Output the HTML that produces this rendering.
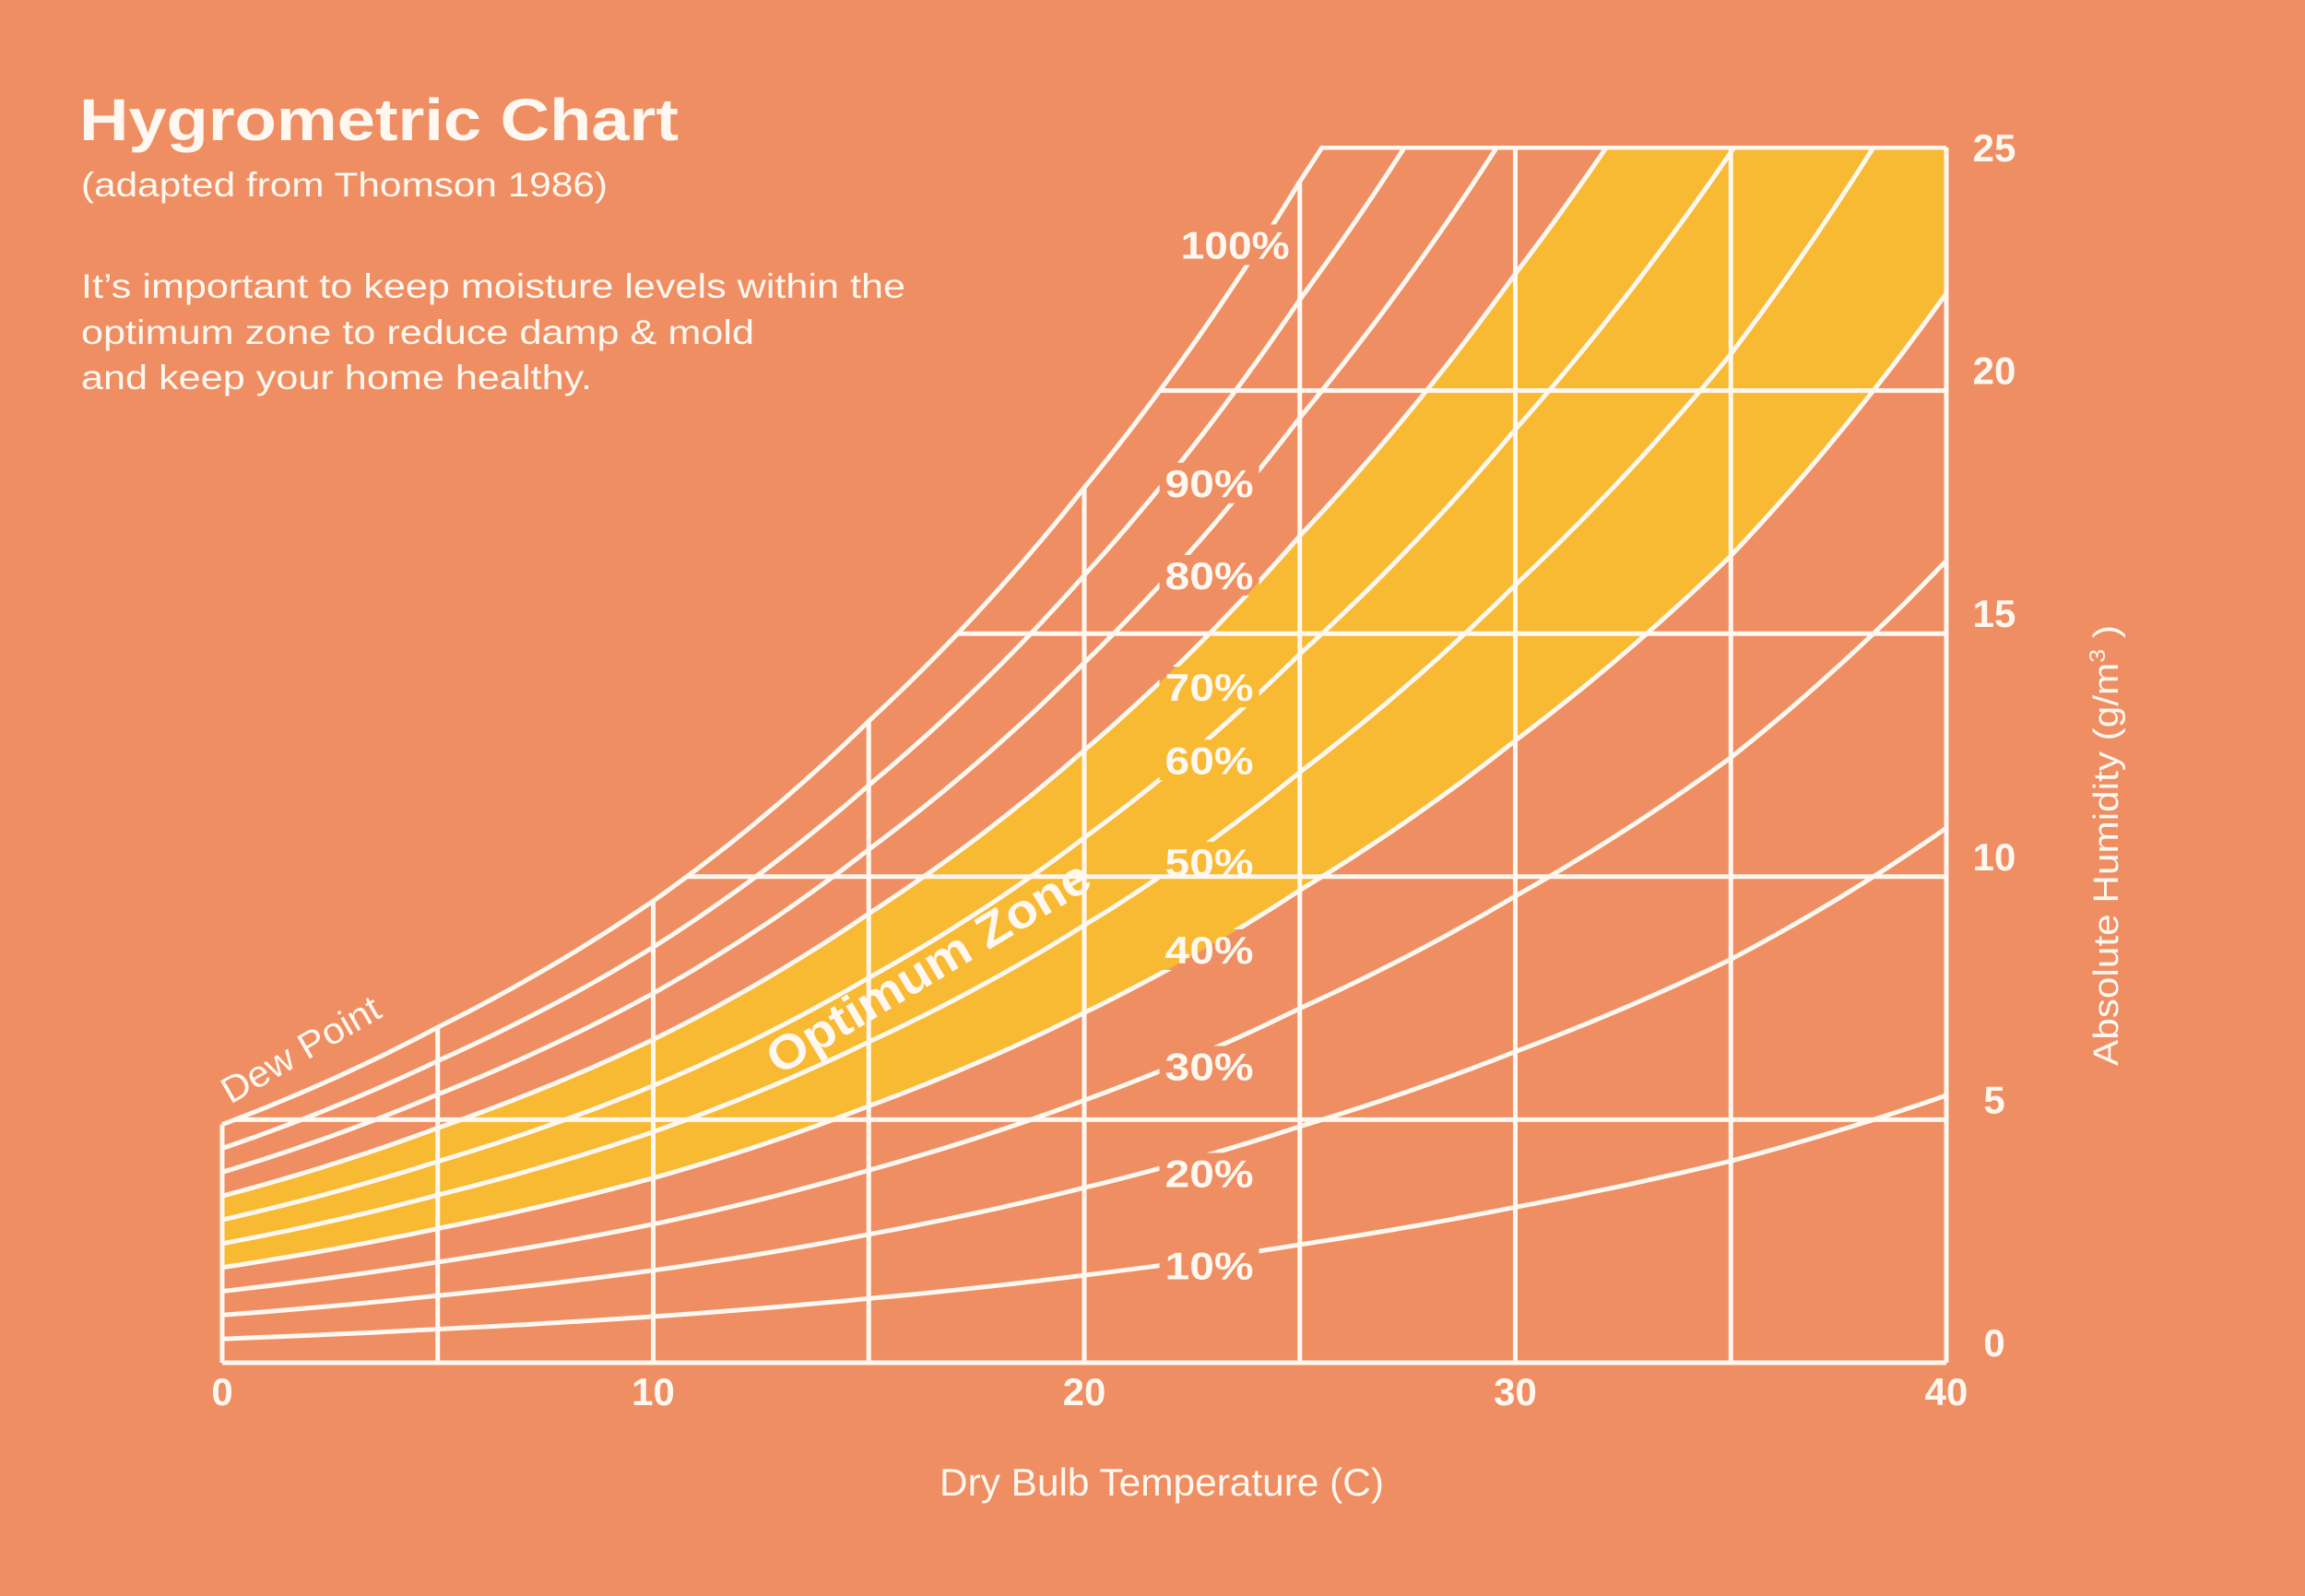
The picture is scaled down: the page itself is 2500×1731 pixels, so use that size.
<!DOCTYPE html>
<html><head><meta charset="utf-8"><style>
html,body{margin:0;padding:0;background:#EF8E63;}
svg{display:block;}
text{font-family:"Liberation Sans",sans-serif;fill:#FFF8F0;}
</style></head><body>
<svg id="chart" width="2500" height="1731" viewBox="0 0 2500 1731" xmlns="http://www.w3.org/2000/svg">
<rect x="0" y="0" width="2500" height="1731" fill="#EF8E63"/>
<text x="86" y="152" font-size="64" font-weight="bold" textLength="650" lengthAdjust="spacingAndGlyphs">Hygrometric Chart</text>
<text x="88" y="213" font-size="37" textLength="571" lengthAdjust="spacingAndGlyphs">(adapted from Thomson 1986)</text>
<g>
<text x="88" y="323" font-size="37" textLength="894" lengthAdjust="spacingAndGlyphs">It’s important to keep moisture levels within the</text>
<text x="88" y="373" font-size="37" textLength="730" lengthAdjust="spacingAndGlyphs">optimum zone to reduce damp &amp; mold</text>
<text x="88" y="422" font-size="37" textLength="554" lengthAdjust="spacingAndGlyphs">and keep your home healthy.</text>
</g>
<defs>
<clipPath id="plotclip"><rect x="236" y="158" width="1880" height="1325"/></clipPath>
<mask id="labelmask" maskUnits="userSpaceOnUse" x="0" y="0" width="2500" height="1731"><rect x="0" y="0" width="2500" height="1731" fill="#fff"/><g id="maskholes"></g></mask>
</defs>
<g id="zone" clip-path="url(#plotclip)"></g>
<g id="grid" clip-path="url(#plotclip)"></g>
<g clip-path="url(#plotclip)"><g id="curves" mask="url(#labelmask)"></g></g>
<g id="labels"></g>
<text x="1260" y="1622" font-size="42" text-anchor="middle" textLength="482" lengthAdjust="spacingAndGlyphs">Dry Bulb Temperature (C)</text>
<text transform="translate(2297,917) rotate(-90)" font-size="38" text-anchor="middle" textLength="478" lengthAdjust="spacingAndGlyphs">Absolute Humidity (g/m<tspan font-size="24" dy="-14">3</tspan><tspan dy="14"> )</tspan></text>
<text transform="translate(333,1150) rotate(-30)" font-size="40" text-anchor="middle" textLength="192" lengthAdjust="spacingAndGlyphs">Dew Point</text>
<text transform="translate(1016,1064) rotate(-31)" font-size="52" font-weight="bold" text-anchor="middle" textLength="400" lengthAdjust="spacingAndGlyphs">Optimum Zone</text>
</svg>
<script>
// Data
const satTemps = [0, 5, 10, 15, 20, 25, 30, 35, 40];
const satValues = [4.9, 6.9, 9.5, 13.2, 18.0, 24.3, 32.0, 41.5, 55.0];
const rhLevels = [100, 90, 80, 70, 60, 50, 40, 30, 20, 10];
const rhLabels = ['100%', '90%', '80%', '70%', '60%', '50%', '40%', '30%', '20%', '10%'];
const zoneLow = 40;
const zoneHigh = 70;
const xTicks = [0, 10, 20, 30, 40];
const xGrid = [0, 5, 10, 15, 20, 25, 30, 35, 40];
const yTicks = [0, 5, 10, 15, 20, 25];
const labelTemps = [23.5, 22.9, 22.9, 22.9, 22.9, 22.9, 22.9, 22.9, 22.9, 22.9];
const labelAH = [23.0, 18.1, 16.2, 13.9, 12.4, 10.3, 8.5, 6.1, 3.9, 2.0];

const X0 = 241, X1 = 2111, Y0 = 1478, Y1 = 160;
function xs(t) { return X0 + (t - 0) / 40 * (X1 - X0); }
function ys(v) { return Y0 - v / 25 * (Y0 - Y1); }
function sat(t) {
  let i = Math.min(satTemps.length - 2, Math.max(0, Math.floor(t / 5)));
  const f = (t - satTemps[i]) / (satTemps[i + 1] - satTemps[i]);
  return Math.exp(Math.log(satValues[i]) * (1 - f) + Math.log(satValues[i + 1]) * f);
}
function tAtSat(v) {
  let lo = 0, hi = 40;
  if (sat(0) >= v) return 0;
  for (let k = 0; k < 40; k++) { const m = (lo + hi) / 2; if (sat(m) < v) lo = m; else hi = m; }
  return lo;
}
const NS = 'http://www.w3.org/2000/svg';
function mk(tag, attrs, parent) {
  const e = document.createElementNS(NS, tag);
  for (const k in attrs) e.setAttribute(k, attrs[k]);
  parent.appendChild(e);
  return e;
}
function curvePts(rh) {
  const pts = [];
  for (let t = 0; t <= 40.001; t += 0.25) pts.push([xs(t), ys(sat(t) * rh / 100)]);
  return pts;
}
const WHITE = '#FFF8F0';
// zone
const zoneG = document.getElementById('zone');
const hiPts = curvePts(zoneHigh), loPts = curvePts(zoneLow).reverse();
const zp = mk('path', { d: 'M' + hiPts.concat(loPts).map(p => p[0].toFixed(1) + ',' + p[1].toFixed(1)).join('L') + 'Z', fill: '#F8B933' }, zoneG);


// grid
const gridG = document.getElementById('grid');
xGrid.forEach(t => {
  const top = Math.min(25, sat(t));
  const l = mk('line', { x1: xs(t), x2: xs(t), y1: ys(0), y2: ys(top), stroke: WHITE, 'stroke-width': 5 }, gridG);
  
  
});
yTicks.forEach(v => {
  const t0 = v === 0 ? 0 : tAtSat(v);
  const l = mk('line', { x1: xs(t0), x2: xs(40), y1: ys(v), y2: ys(v), stroke: WHITE, 'stroke-width': 5 }, gridG);
  
  
});
// curves
const curvesG = document.getElementById('curves');
rhLevels.forEach(rh => {
  const pts = curvePts(rh);
  const p = mk('path', { d: 'M' + pts.map(q => q[0].toFixed(1) + ',' + q[1].toFixed(1)).join('L'), fill: 'none', stroke: WHITE, 'stroke-width': 5 }, curvesG);
  
  
});
// curve labels with gaps
const labG = document.getElementById('labels');
const holes = document.getElementById('maskholes');
rhLevels.forEach((rh, i) => {
  const cx = xs(labelTemps[i]), cy = ys(labelAH[i]);
  const w = rh === 100 ? 118 : 96;
  mk('rect', { x: cx - w / 2 - 6, y: cy - 22, width: w + 12, height: 44, fill: '#000' }, holes);
  const txt = mk('text', { x: cx, y: cy + 15, 'font-size': 42, 'font-weight': 'bold', 'text-anchor': 'middle', textLength: w, lengthAdjust: 'spacingAndGlyphs' }, labG);
  txt.textContent = rhLabels[i];
  
  
});
// x tick labels
xTicks.forEach(t => {
  const txt = mk('text', { x: xs(t), y: 1524, 'font-size': 42, 'font-weight': 'bold', 'text-anchor': 'middle' }, labG);
  txt.textContent = t;
  
  
});
// y tick labels
yTicks.forEach(v => {
  const off = v === 25 ? 0 : -22;
  const txt = mk('text', { x: 2163, y: ys(v) + off + 15, 'font-size': 42, 'font-weight': 'bold', 'text-anchor': 'middle' }, labG);
  txt.textContent = v;
  
  
});
</script>
</body></html>
